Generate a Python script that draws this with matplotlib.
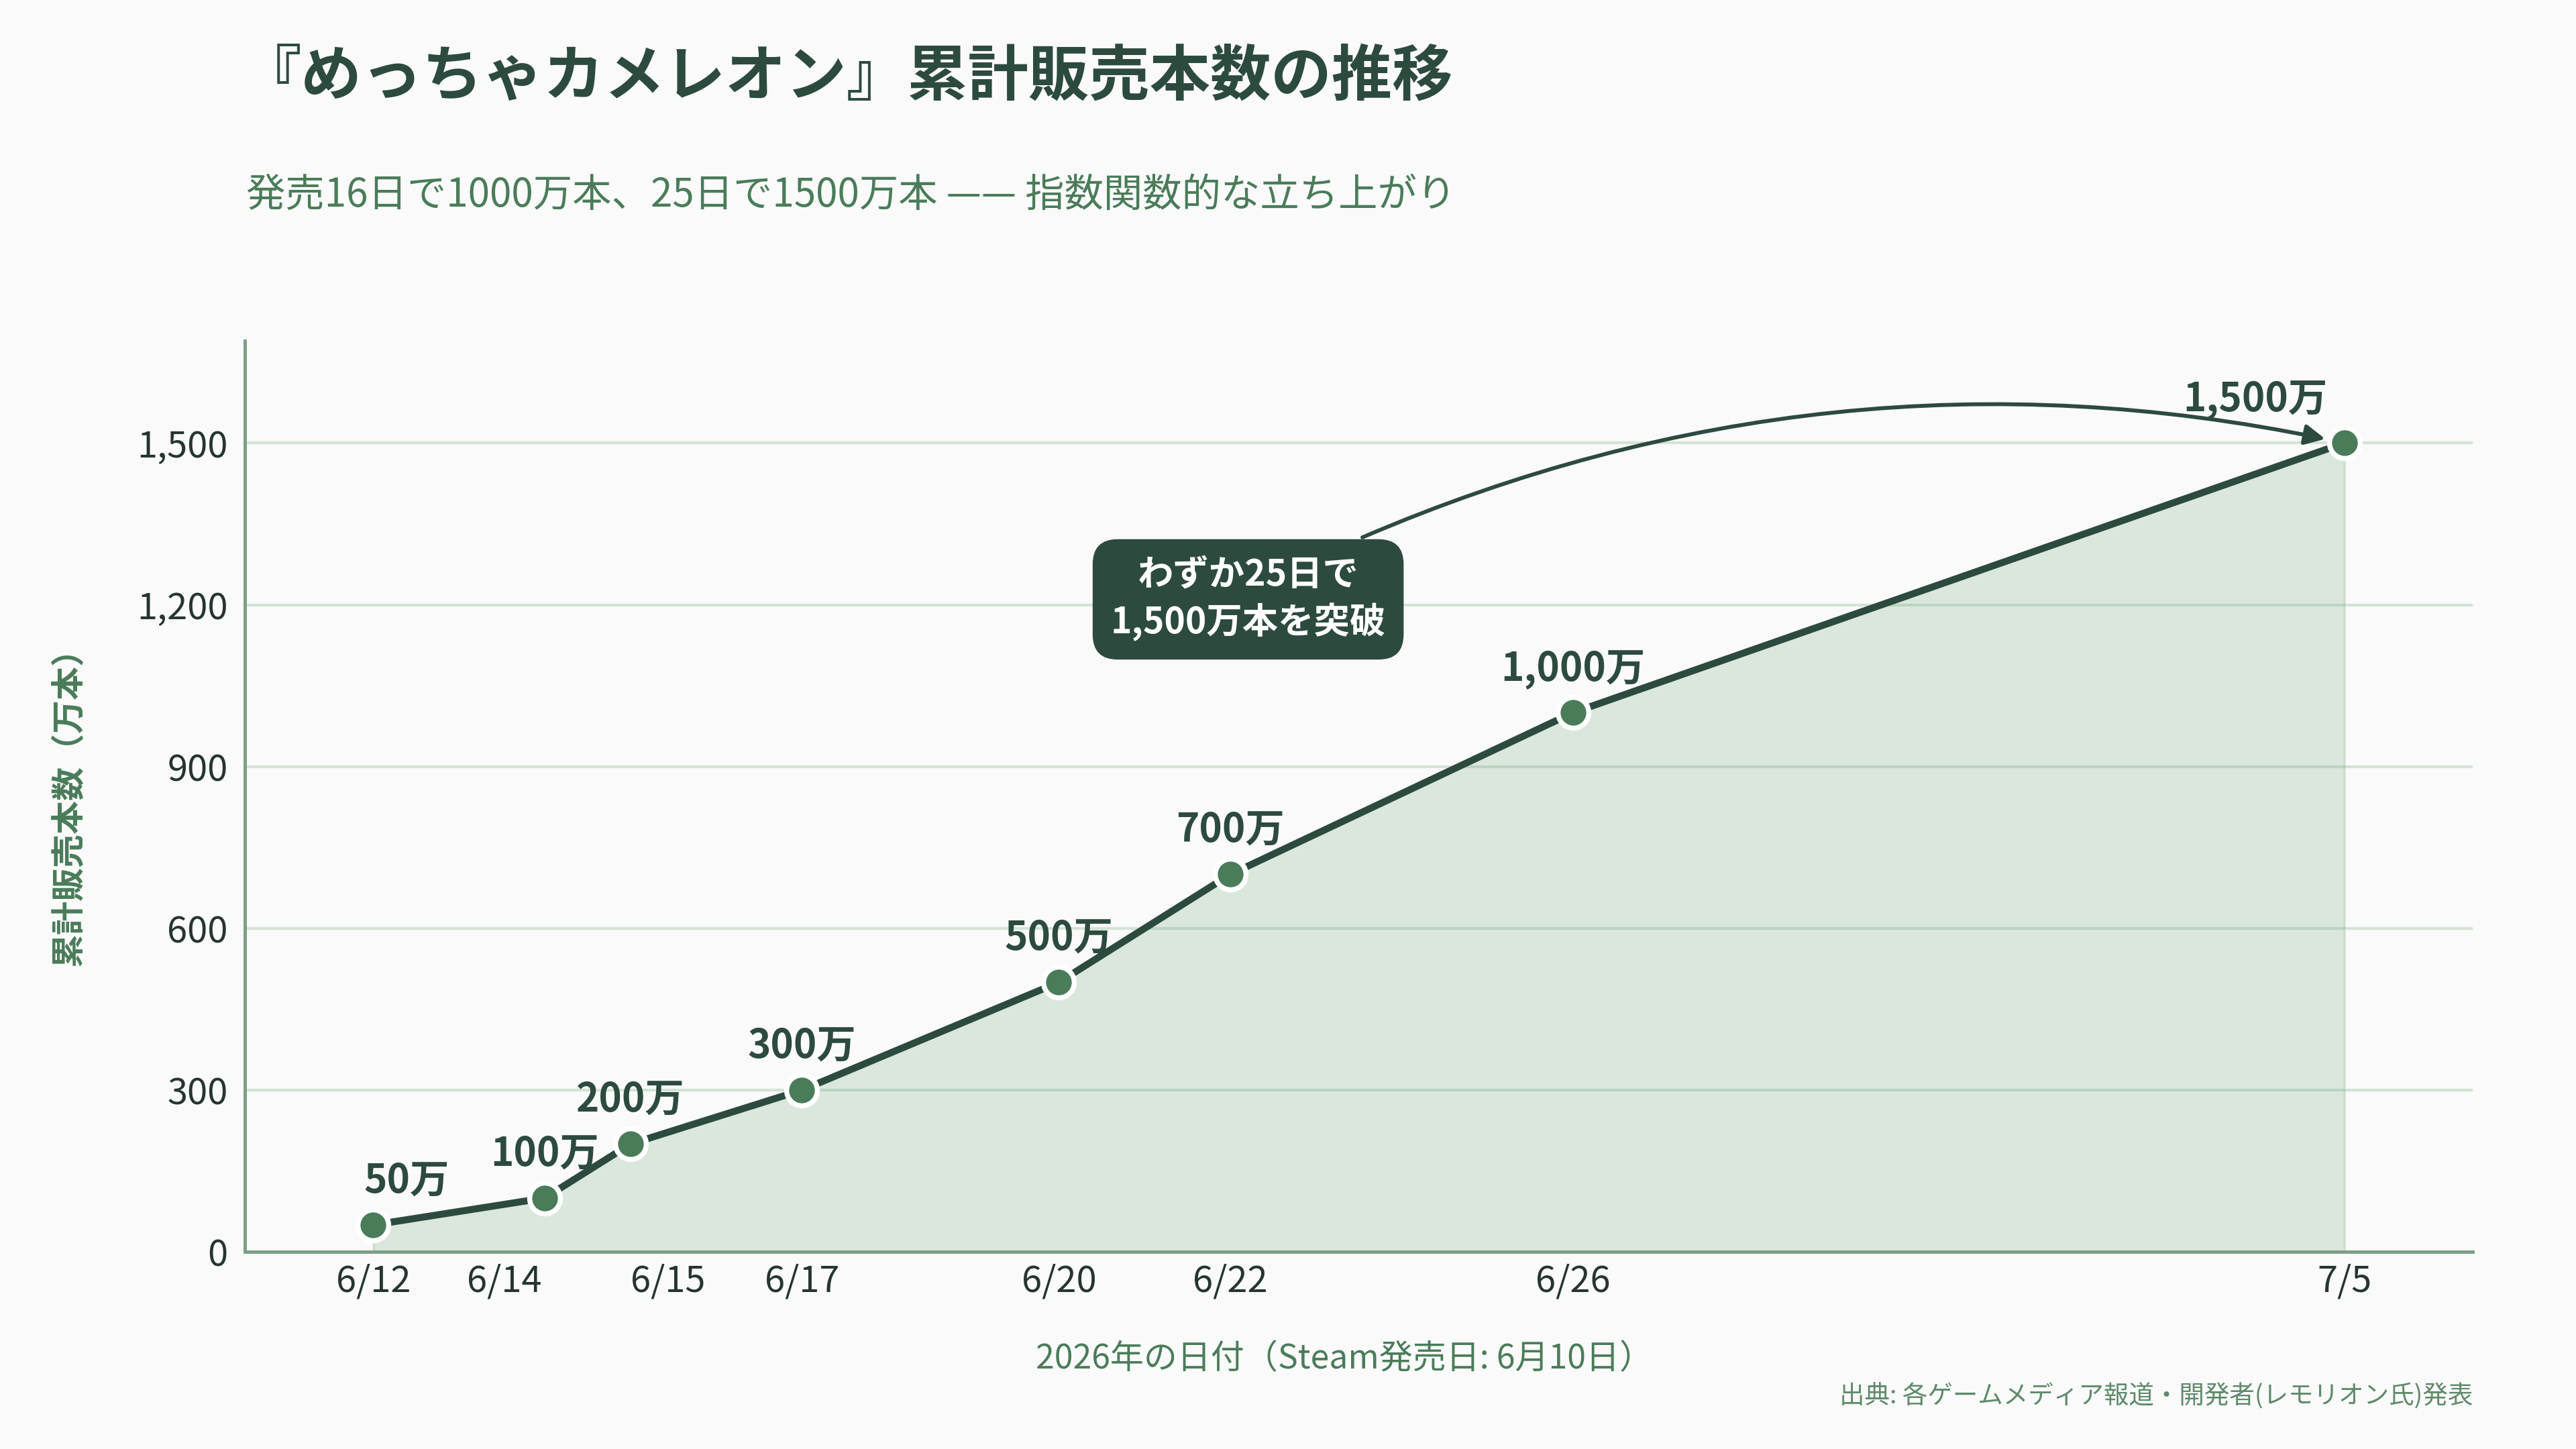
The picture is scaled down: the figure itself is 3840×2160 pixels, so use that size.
import datetime as dt

import matplotlib
matplotlib.use("Agg")
import matplotlib.pyplot as plt
import matplotlib.transforms as mtransforms

plt.rcParams["font.family"] = ["Noto Sans CJK JP", "DejaVu Sans"]

# data
dates = ["2026-06-12", "2026-06-14", "2026-06-15", "2026-06-17",
         "2026-06-20", "2026-06-22", "2026-06-26", "2026-07-05"]
sales = [50, 100, 200, 300, 500, 700, 1000, 1500]          # 万本
tick_labels = ["6/12", "6/14", "6/15", "6/17", "6/20", "6/22", "6/26", "7/5"]
point_labels = ["50万", "100万", "200万", "300万", "500万", "700万", "1,000万", "1,500万"]
y_ticks = [0, 300, 600, 900, 1200, 1500]

DARK = "#2d4a3e"
GREEN = "#4a7c59"
GRID = "#d3e3d7"
SPINE = "#7d9f87"
BG = "#fafafa"

x = [dt.datetime.strptime(d, "%Y-%m-%d") for d in dates]

fig = plt.figure(figsize=(12.8, 7.2), dpi=300, facecolor=BG)
ax = fig.add_axes([0.095, 0.136, 0.865, 0.629], facecolor=BG)

# fill + line + markers
ax.fill_between(x, sales, 0, color="#6aa57a", alpha=0.22, linewidth=0.8, zorder=1)
ax.plot(x, sales, color=DARK, linewidth=2.5, zorder=3, solid_capstyle="round")
ax.plot(x, sales, linestyle="none", marker="o", markersize=11,
        markerfacecolor=GREEN, markeredgecolor="white", markeredgewidth=1.8, zorder=4)

# value labels above points (x nudges for the first / last one)
label_dx = {0: 12, 7: -32}
for i, (xi, yi, lab) in enumerate(zip(x, sales, point_labels)):
    ax.annotate(lab, (xi, yi), xytext=(label_dx.get(i, 0), 15.5),
                textcoords="offset points", ha="center", va="center",
                fontsize=14, fontweight="bold", color=DARK, zorder=5)

# callout box + curved arrow to the last point
ax.text(dt.datetime(2026, 6, 22, 5), 1210, "わずか25日で\n1,500万本を突破",
        ha="center", va="center", fontsize=12.8, fontweight="bold", color="white",
        linespacing=1.3, zorder=6,
        bbox=dict(boxstyle="round,pad=0.5,rounding_size=0.7", facecolor=DARK,
                  edgecolor="none"))
ax.annotate("", xy=(x[-1], sales[-1]), xytext=(dt.datetime(2026, 6, 23, 13), 1325),
            arrowprops=dict(arrowstyle="-|>,head_length=0.6,head_width=0.3",
                            color=DARK, linewidth=1.4,
                            connectionstyle="arc3,rad=-0.16",
                            shrinkA=0, shrinkB=7),
            zorder=5)

# axes styling
ax.set_xlim(dt.datetime(2026, 6, 10, 12), dt.datetime(2026, 7, 6, 12))
ax.set_ylim(0, 1690)
ax.set_xticks(x)
ax.set_xticklabels(tick_labels)
ax.set_yticks(y_ticks)
ax.set_yticklabels([f"{v:,}" for v in y_ticks])
ax.tick_params(axis="both", length=0, labelsize=13, labelcolor="#26352d")
ax.tick_params(axis="x", pad=4)
ax.tick_params(axis="y", pad=6)
ax.grid(True, axis="y", color=GRID, linewidth=1.0, zorder=0)
ax.set_axisbelow(True)
for side in ["top", "right"]:
    ax.spines[side].set_visible(False)
for side in ["left", "bottom"]:
    ax.spines[side].set_color(SPINE)
    ax.spines[side].set_linewidth(1.2)

# nudge the crowded 6/14 and 6/15 tick labels apart
tick_dx = {1: -14.5, 2: 13.5}
for i, lab in enumerate(ax.get_xticklabels()):
    if i in tick_dx:
        off = mtransforms.ScaledTranslation(tick_dx[i] / 72, 0, fig.dpi_scale_trans)
        lab.set_transform(lab.get_transform() + off)

# titles and labels
fig.text(0.0935, 0.947, "『めっちゃカメレオン』累計販売本数の推移",
         ha="left", va="center", fontsize=21.7, fontweight="bold", color=DARK)
fig.text(0.0957, 0.865, "発売16日で1000万本、25日で1500万本 —— 指数関数的な立ち上がり",
         ha="left", va="center", fontsize=14, color=GREEN)
fig.text(0.027, 0.449, "累計販売本数（万本）", rotation=90, ha="center", va="center",
         fontsize=12, fontweight="bold", color=GREEN)
fig.text(0.522, 0.062, "2026年の日付（Steam発売日: 6月10日）", ha="center", va="center",
         fontsize=12, color=GREEN)
fig.text(0.960, 0.036, "出典: 各ゲームメディア報道・開発者(レモリオン氏)発表",
         ha="right", va="center", fontsize=9, color="#5f8a6b")

fig.savefig("out.png", dpi=300, facecolor=BG)
